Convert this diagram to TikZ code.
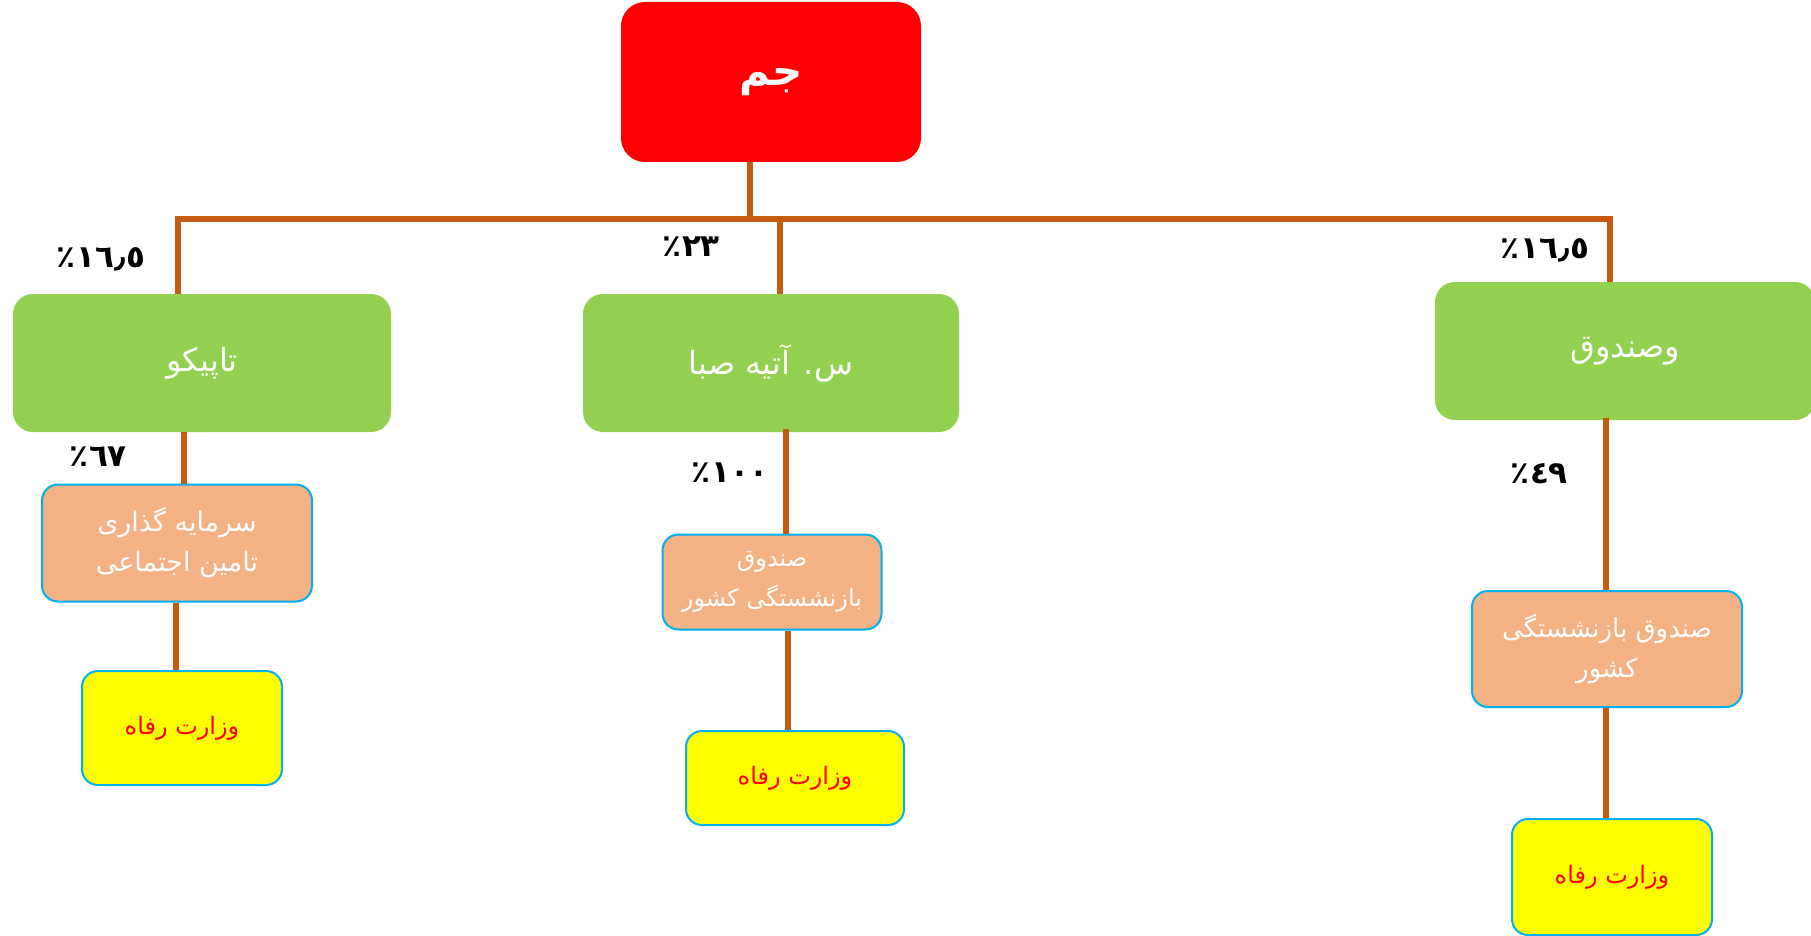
\documentclass[tikz,border=0pt]{standalone}
\usepackage{fontspec}
\newfontfamily\arfont[Script=Arabic]{DejaVu Sans}
\newfontfamily\numfont{DejaVu Sans}
\TeXXeTstate=1
\definecolor{rootred}{HTML}{FF0000}
\definecolor{lgreen}{HTML}{92D050}
\definecolor{peach}{HTML}{F4B183}
\definecolor{cyanb}{HTML}{00B0F0}
\definecolor{yel}{HTML}{FFFF00}
\definecolor{conn}{HTML}{C55A11}
\newcommand{\pctlab}[1]{\hbox{٪}\kern1pt\hbox{#1}}
\begin{document}
\begin{tikzpicture}[x=1pt,y=-1pt,
  rootbox/.style={fill=rootred, rounded corners=24pt, minimum width=300pt, minimum height=160pt, inner sep=0pt, text=white, font=\arfont\fontsize{42}{48}\selectfont\bfseries},
  greenbox/.style={fill=lgreen, rounded corners=20pt, minimum height=138pt, inner sep=0pt, text=white, font=\arfont\fontsize{32}{36}\selectfont},
  peachbox/.style={fill=peach, draw=cyanb, line width=2pt, rounded corners=16pt, inner sep=0pt, text=white, align=center},
  yelbox/.style={fill=yel, draw=cyanb, line width=2pt, rounded corners=16pt, inner sep=0pt, text=red, font=\arfont\fontsize{24}{28}\selectfont},
  pct/.style={text=black, inner sep=0pt, font=\numfont\fontsize{31}{34}\selectfont\bfseries},
  link/.style={draw=conn, line width=5.5pt}]
\useasboundingbox[fill=white] (0,0) rectangle (1811,936);
% nodes
\node[rootbox] (root) at (771,82) {\beginR جم\endR};
\node[greenbox, minimum width=378pt] (tap) at (202,363) {\beginR تاپیکو\endR};
\node[greenbox, minimum width=376pt] (atie) at (771,363) {\beginR س. آتیه صبا\endR};
\node[greenbox, minimum width=380pt] (vsan) at (1625,351) {\beginR وصندوق\endR};
\node[peachbox, minimum width=270pt, minimum height=117pt, font=\arfont\fontsize{27}{40}\selectfont] (p1) at (177,543) {\beginR سرمایه گذاری\endR\\\beginR تامین اجتماعی\endR};
\node[peachbox, minimum width=219pt, minimum height=95pt, font=\arfont\fontsize{24}{40}\selectfont] (p2) at (772,582) {\beginR صندوق\endR\\\beginR بازنشستگی کشور\endR};
\node[peachbox, minimum width=270pt, minimum height=116pt, font=\arfont\fontsize{26}{40}\selectfont] (p3) at (1607,649) {\beginR صندوق بازنشستگی\endR\\\beginR کشور\endR};
\node[yelbox, minimum width=200pt, minimum height=114pt] (y1) at (182,728) {\beginR وزارت رفاه\endR};
\node[yelbox, minimum width=218pt, minimum height=94pt] (y2) at (795,778) {\beginR وزارت رفاه\endR};
\node[yelbox, minimum width=200pt, minimum height=116pt] (y3) at (1612,877) {\beginR وزارت رفاه\endR};
% percent labels
\node[pct] (l1) at (101,259) {\pctlab{١٦٫٥}};
\node[pct] (l2) at (691,247) {\pctlab{٢٣}};
\node[pct] (l3) at (1545,250) {\pctlab{١٦٫٥}};
\node[pct] (l4) at (98,457) {\pctlab{٦٧}};
\node[pct] (l5) at (730,473) {\pctlab{١٠٠}};
\node[pct] (l6) at (1539,474) {\pctlab{٤٩}};
% bus coordinates
\coordinate (busL) at (178,219);
\coordinate (busM) at (780,219);
\coordinate (busR) at (1610,219);
\coordinate (busC) at (750,219);
% connectors
\draw[link] ([xshift=-21pt]root.south) -- (busC);
\draw[link] ([xshift=-2.75pt]busL) -- ([xshift=2.75pt]busR);
\draw[link] (busL) -- (busL |- tap.north);
\draw[link] (busM) -- (busM |- atie.north);
\draw[link] ([yshift=-2.75pt]busR) -- (busR |- vsan.north);
\draw[link] ([xshift=-18pt]tap.south) -- ([xshift=-18pt]tap.south |- p1.north);
\draw[link] ([xshift=-1pt]p1.south) -- ([xshift=-1pt]p1.south |- y1.north);
\draw[link] ([xshift=15pt,yshift=3pt]atie.south) -- ([xshift=15pt]atie.south |- p2.north);
\draw[link] ([xshift=16pt]p2.south) -- ([xshift=16pt]p2.south |- y2.north);
\draw[link] ([xshift=-19pt,yshift=2pt]vsan.south) -- ([xshift=-19pt]vsan.south |- p3.north);
\draw[link] ([xshift=-1pt]p3.south) -- ([xshift=-1pt]p3.south |- y3.north);
\end{tikzpicture}
\end{document}
